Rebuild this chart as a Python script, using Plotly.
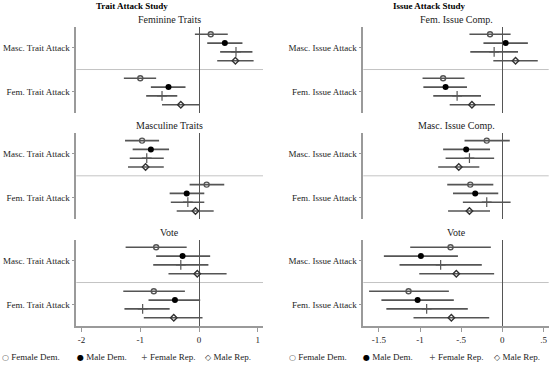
import plotly.graph_objects as go

W, H = 553, 368

groups = ["Female Dem.", "Male Dem.", "Female Rep.", "Male Rep."]
trait_attacks = ["Masc. Trait Attack", "Fem. Trait Attack"]
issue_attacks = ["Masc. Issue Attack", "Fem. Issue Attack"]
col_titles = ["Trait Attack Study", "Issue Attack Study"]
trait_panels = ["Feminine Traits", "Masculine Traits", "Vote"]
issue_panels = ["Fem. Issue Comp.", "Masc. Issue Comp.", "Vote"]
trait_xticks = [-2, -1, 0, 1]
trait_xticklabels = ["-2", "-1", "0", "1"]
issue_xticks = [-1.5, -1, -0.5, 0, 0.5]
issue_xticklabels = ["-1.5", "-1", "-.5", "0", ".5"]

# order within each list: Masc attack (FD, MD, FR, MR), then Fem attack (FD, MD, FR, MR)
trait_fem_est = [0.20, 0.44, 0.63, 0.62, -1.00, -0.52, -0.63, -0.31]
trait_fem_lo = [-0.07, 0.14, 0.36, 0.31, -1.28, -0.82, -0.90, -0.63]
trait_fem_hi = [0.49, 0.74, 0.91, 0.93, -0.73, -0.23, -0.37, 0.00]

trait_masc_est = [-0.97, -0.82, -0.89, -0.91, 0.13, -0.21, -0.19, -0.06]
trait_masc_lo = [-1.26, -1.13, -1.18, -1.21, -0.16, -0.50, -0.48, -0.38]
trait_masc_hi = [-0.68, -0.51, -0.60, -0.60, 0.43, 0.09, 0.09, 0.25]

trait_vote_est = [-0.73, -0.28, -0.31, -0.03, -0.77, -0.41, -0.96, -0.43]
trait_vote_lo = [-1.25, -0.73, -0.78, -0.52, -1.29, -0.86, -1.27, -0.94]
trait_vote_hi = [-0.21, 0.19, 0.16, 0.47, -0.24, 0.02, -0.50, 0.06]

issue_fem_est = [-0.15, 0.04, -0.10, 0.16, -0.72, -0.69, -0.55, -0.37]
issue_fem_lo = [-0.40, -0.23, -0.39, -0.11, -0.97, -0.96, -0.84, -0.64]
issue_fem_hi = [0.10, 0.31, 0.19, 0.43, -0.46, -0.43, -0.26, -0.09]

issue_masc_est = [-0.19, -0.44, -0.40, -0.53, -0.39, -0.33, -0.19, -0.40]
issue_masc_lo = [-0.46, -0.72, -0.69, -0.78, -0.67, -0.60, -0.48, -0.66]
issue_masc_hi = [0.09, -0.15, -0.10, -0.28, -0.11, -0.05, 0.10, -0.15]

issue_vote_est = [-0.63, -0.99, -0.75, -0.56, -1.14, -1.03, -0.92, -0.62]
issue_vote_lo = [-1.12, -1.44, -1.25, -1.01, -1.62, -1.47, -1.41, -1.08]
issue_vote_hi = [-0.14, -0.54, -0.25, -0.10, -0.65, -0.59, -0.42, -0.16]

panels = [
    [(trait_fem_est, trait_fem_lo, trait_fem_hi), (issue_fem_est, issue_fem_lo, issue_fem_hi)],
    [(trait_masc_est, trait_masc_lo, trait_masc_hi), (issue_masc_est, issue_masc_lo, issue_masc_hi)],
    [(trait_vote_est, trait_vote_lo, trait_vote_hi), (issue_vote_est, issue_vote_lo, issue_vote_hi)],
]

# ---------- styling ----------
FONT = "Liberation Serif"
TXT = "#222222"
AXC = "#9a9a9a"
CIC = "#555555"
marker_styles = [
    dict(symbol="circle-open", size=5, color="#555555", line=dict(width=1.4, color="#555555")),
    dict(symbol="circle", size=6, color="#000000", line=dict(width=0)),
    dict(symbol="cross-thin-open", size=7, color="#555555", line=dict(width=1.2, color="#555555")),
    dict(symbol="diamond-open", size=5, color="#333333", line=dict(width=1.4, color="#333333")),
]

col_x_px = [(76.3, 263.0), (363.3, 548.7)]
row_y_px = [(27.0, 113.0), (133.3, 219.3), (240.0, 326.0)]
x_ranges = [[-2.09, 1.09], [-1.69, 0.563]]
y_range = [9.94, 0.17]
masc_pos = [1, 2, 3, 4]
fem_pos = [6, 7, 8, 9]

fig = go.Figure()
layout = dict(
    width=W, height=H, autosize=False,
    margin=dict(l=0, r=0, t=0, b=0),
    paper_bgcolor="white", plot_bgcolor="white",
    showlegend=False,
    font=dict(family=FONT, size=9, color=TXT),
)
annotations = []
shapes = []

for i in range(3):
    for j in range(2):
        k = i * 2 + j + 1
        xa = "x" if k == 1 else f"x{k}"
        ya = "y" if k == 1 else f"y{k}"
        est, lo, hi = panels[i][j]
        for g in range(4):
            idx = [g, g + 4]
            xs = [est[t] for t in idx]
            fig.add_trace(go.Scatter(
                x=xs, y=[masc_pos[g], fem_pos[g]],
                mode="markers", name=groups[g],
                marker=marker_styles[g],
                error_x=dict(type="data", symmetric=False,
                             array=[hi[t] - est[t] for t in idx],
                             arrayminus=[est[t] - lo[t] for t in idx],
                             width=0, thickness=1.6, color=CIC),
                xaxis=xa, yaxis=ya, hoverinfo="x",
            ))
        x0, x1 = col_x_px[j]
        yt, yb = row_y_px[i]
        bottom = (i == 2)
        layout["xaxis" if k == 1 else f"xaxis{k}"] = dict(
            domain=[x0 / W, x1 / W], anchor=ya, range=x_ranges[j],
            showgrid=False, zeroline=True, zerolinecolor="#555555", zerolinewidth=1.3,
            showline=bottom, linecolor=AXC, linewidth=1.5,
            ticks="outside" if bottom else "", ticklen=4, tickcolor=AXC, tickwidth=1,
            showticklabels=bottom,
            tickvals=trait_xticks if j == 0 else issue_xticks,
            ticktext=trait_xticklabels if j == 0 else issue_xticklabels,
            tickfont=dict(family=FONT, size=9, color=TXT),
        )
        layout["yaxis" if k == 1 else f"yaxis{k}"] = dict(
            domain=[1 - yb / H, 1 - yt / H], anchor=xa, range=y_range,
            showgrid=False, zeroline=False,
            showline=True, linecolor=AXC, linewidth=1.5,
            ticks="outside", ticklen=3, tickcolor=AXC, tickwidth=1,
            tickvals=[sum(masc_pos) / 4, sum(fem_pos) / 4],
            ticktext=trait_attacks if j == 0 else issue_attacks,
            tickfont=dict(family=FONT, size=9, color=TXT),
        )
        shapes.append(dict(type="line", xref=f"{xa} domain", yref=ya,
                           x0=0, x1=1, y0=5, y1=5,
                           line=dict(color="#c4c4c4", width=1), layer="below"))
        title = (trait_panels if j == 0 else issue_panels)[i]
        annotations.append(dict(text=title, xref="paper", yref="paper",
                                x=(x0 + x1) / 2 / W, y=1 - (yt - 7.5) / H,
                                xanchor="center", yanchor="middle", showarrow=False,
                                font=dict(family=FONT, size=10, color=TXT)))

# column titles
for j, cx in enumerate([132, 429.5]):
    annotations.append(dict(text=f"<b>{col_titles[j]}</b>", xref="paper", yref="paper",
                            x=cx / W, y=1 - 6.5 / H, xanchor="center", yanchor="middle",
                            showarrow=False, font=dict(family=FONT, size=9, color="#000")))

# legends (as text)
legend_syms = [
    ('○', '#555555'), ('●', '#000000'), ('+', '#555555'), ('◇', '#333333'),
]
legend_px = [[0, 74.5, 139, 203], [287, 361, 427, 491.5]]
for j in range(2):
    for g in range(4):
        s, c = legend_syms[g]
        annotations.append(dict(
            text=f'<span style="font-family:DejaVu Sans;font-size:8px;color:{c}">{s}</span> {groups[g]}',
            xref="paper", yref="paper", x=legend_px[j][g] / W, y=1 - 356.5 / H,
            xanchor="left", yanchor="middle", showarrow=False,
            font=dict(family=FONT, size=9, color=TXT)))

layout["annotations"] = annotations
layout["shapes"] = shapes
fig.update_layout(**layout)
fig.write_html("out.html", config={"displayModeBar": False},
               post_script="document.body.style.margin='0';document.body.style.overflow='hidden';")
